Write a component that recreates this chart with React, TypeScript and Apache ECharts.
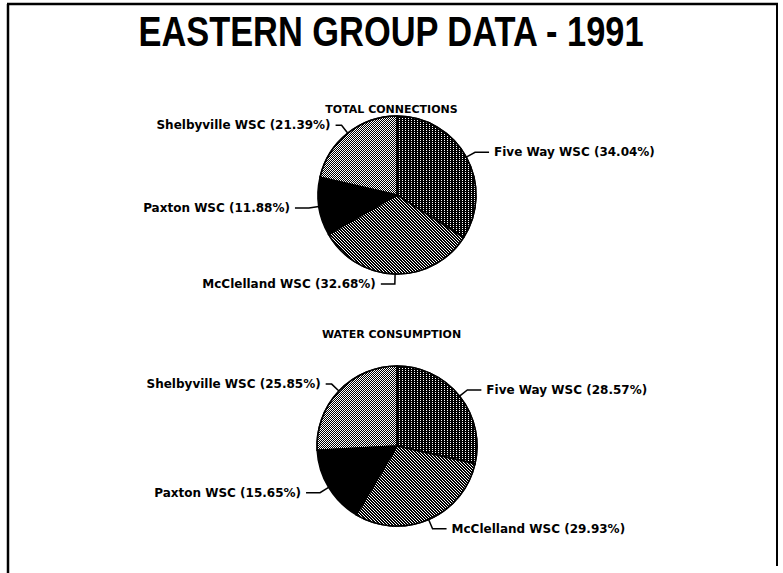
import React, { useEffect, useRef } from "react";
import * as echarts from "echarts";

const mainTitle = "EASTERN GROUP DATA - 1991";
const pieTitles = ["TOTAL CONNECTIONS", "WATER CONSUMPTION"];
const names = ["Five Way WSC", "McClelland WSC", "Paxton WSC", "Shelbyville WSC"];
const connections = [34.04, 32.68, 11.88, 21.39];
const consumption = [28.57, 29.93, 15.65, 25.85];

const FONT = "'DejaVu Sans', 'Liberation Sans', Arial, sans-serif";
const TITLE_FONT = "'Liberation Sans', Arial, sans-serif";

const fills: Record<string, any> = {
  "Five Way WSC": { color: "#000", decal: { symbol: "rect", color: "#fff", dashArrayX: [1, 2], dashArrayY: [1, 1], symbolSize: 1 } },
  "McClelland WSC": { color: "#000", decal: { symbol: "rect", color: "#fff", dashArrayX: [[1, 2], [0, 1, 1, 1], [0, 2, 1, 0]], dashArrayY: [1, 0], symbolSize: 1 } },
  "Paxton WSC": { color: "#000", decal: undefined },
  "Shelbyville WSC": { color: "#fff", decal: { symbol: "rect", color: "#000", dashArrayX: [[1, 1], [0, 1, 1, 0]], dashArrayY: [1, 0], symbolSize: 1 } },
};
const line2: Record<string, number> = { "Shelbyville WSC": 6 };

function buildData(values: number[]) {
  return values.map((v, i) => ({
    name: names[i],
    value: v,
    itemStyle: { color: fills[names[i]].color, decal: fills[names[i]].decal, borderColor: "#000", borderWidth: 1.5 },
    labelLine: line2[names[i]] !== undefined ? { length2: line2[names[i]] } : undefined,
  }));
}

export default function App() {
  const ref = useRef<HTMLDivElement>(null);
  useEffect(() => {
    document.body.style.margin = "0";
    const chart = echarts.init(ref.current!, undefined, { renderer: "svg" });
    const pieCommon = {
      type: "pie",
      startAngle: 90,
      clockwise: true,
      animation: false,
      silent: true,
      label: {
        show: true,
        position: "outside",
        color: "#000",
        fontFamily: FONT,
        fontWeight: "bold",
        fontSize: 12,
        formatter: (p: any) => `${p.name} (${p.value.toFixed(2)}%)`,
      },
      labelLine: { show: true, length: 10, length2: 14, lineStyle: { color: "#000", width: 1.5 } },
      emphasis: { disabled: true },
    };
    chart.setOption({
      animation: false,
      backgroundColor: "#fff",
      title: [
        { text: pieTitles[0], left: "center", top: 99, textStyle: { fontFamily: FONT, fontWeight: "bold", fontSize: 11, color: "#000" } },
        { text: pieTitles[1], left: "center", top: 324, textStyle: { fontFamily: FONT, fontWeight: "bold", fontSize: 11, color: "#000" } },
      ],
      graphic: [
        { type: "line", shape: { x1: 8, y1: 4, x2: 8, y2: 573 }, style: { stroke: "#000", lineWidth: 2.5 } },
        { type: "line", shape: { x1: 7, y1: 4, x2: 778, y2: 4 }, style: { stroke: "#000", lineWidth: 2.5 } },
        { type: "line", shape: { x1: 777, y1: 4, x2: 777, y2: 566 }, style: { stroke: "#000", lineWidth: 2 } },
        {
          type: "text",
          x: 391,
          y: 31,
          scaleX: 0.8,
          style: { text: mainTitle, fill: "#000", font: `bold 43px ${TITLE_FONT}`, textAlign: "center", textVerticalAlign: "middle" },
        },
      ],
      series: [
        { ...pieCommon, center: [397, 195], radius: 79, data: buildData(connections) },
        { ...pieCommon, center: [397, 446], radius: 80, data: buildData(consumption) },
      ],
    } as any);
    return () => chart.dispose();
  }, []);
  return <div ref={ref} style={{ position: "fixed", left: 0, top: 0, width: 783, height: 573 }} />;
}
